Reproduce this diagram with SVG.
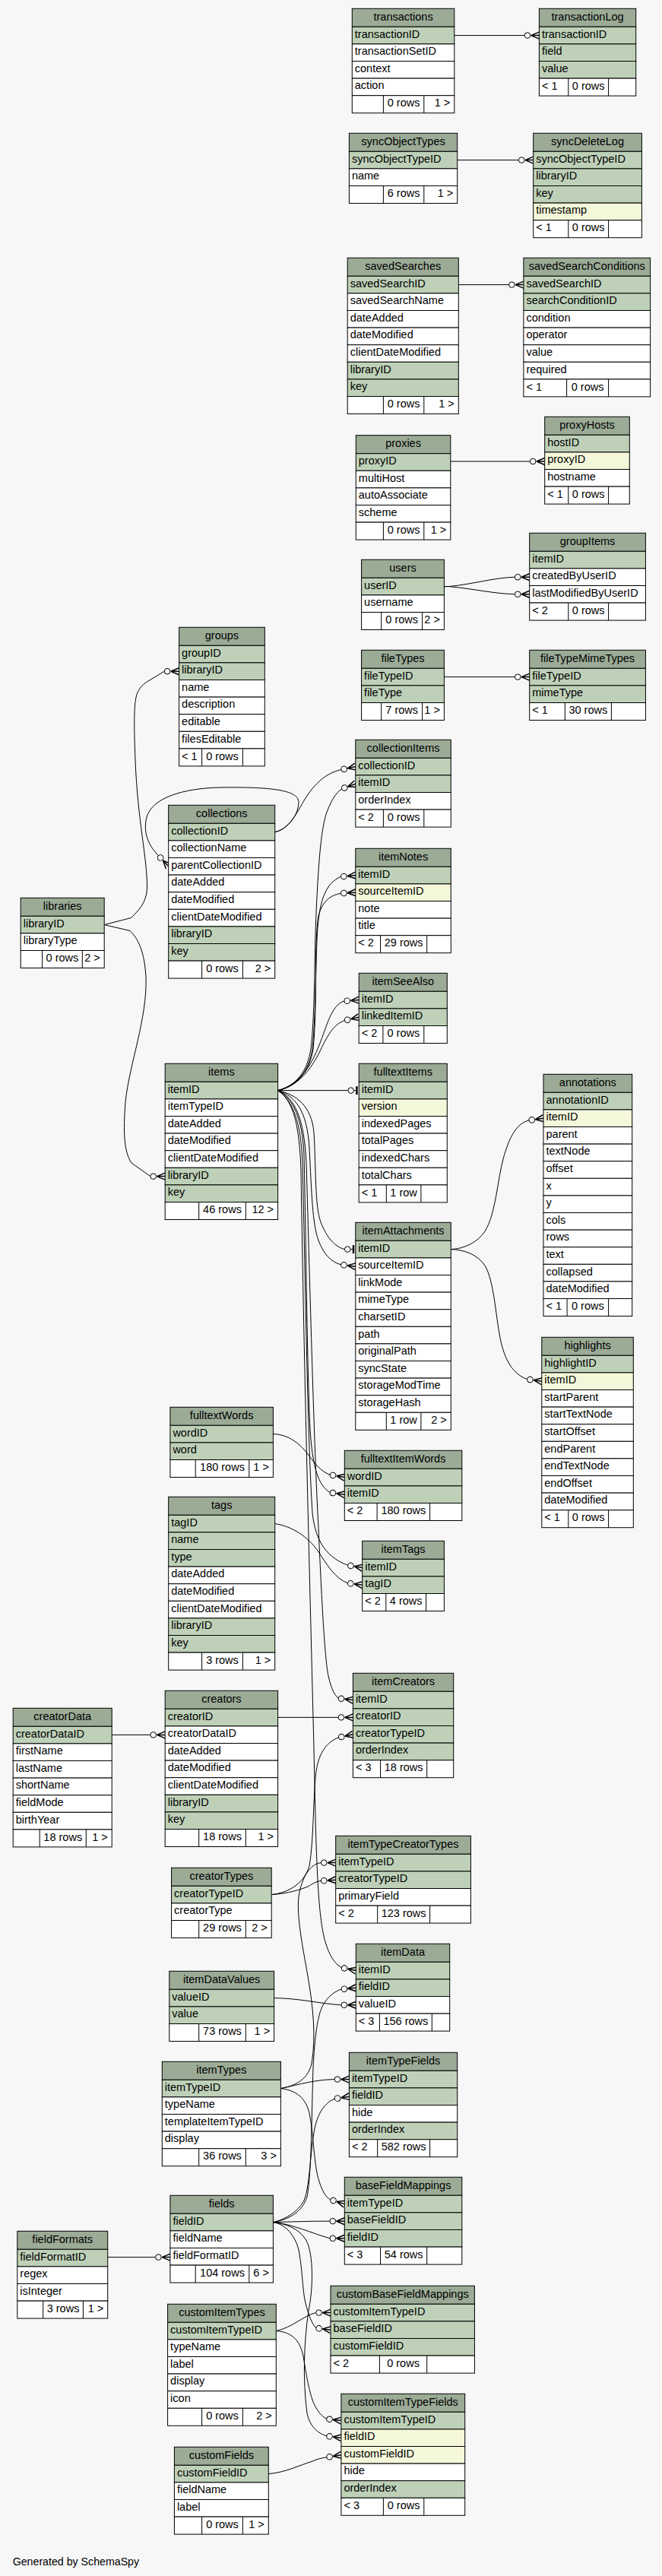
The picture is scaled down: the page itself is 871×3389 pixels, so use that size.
<svg xmlns="http://www.w3.org/2000/svg" xmlns:xlink="http://www.w3.org/1999/xlink" width="871" height="3389" viewBox="0 0 871 3389">
<style>
text{font-family:"Liberation Sans",Arial,Helvetica,sans-serif;font-size:14.5px;fill:#000}
.c{text-anchor:middle}
.r{text-anchor:end}
.h{fill:#9bab96;stroke:#000;stroke-width:1}
.p{fill:#bed1b8;stroke:#000;stroke-width:1}
.k{fill:#f4f7da;stroke:#000;stroke-width:1}
.w{fill:#fff;stroke:#000;stroke-width:1}
.d{fill:none;stroke:#000;stroke-width:1}
.e{fill:none;stroke:#000;stroke-width:1}
</style>
<defs>
<g id="cf"><circle cx="-15.5" cy="0" r="3.8" fill="none" stroke="#000" stroke-width="1"/><path d="M-10.8,0L0,-4.5M-10.8,0L0,0M-10.8,0L0,4.5" fill="none" stroke="#000" stroke-width="1.5"/></g>
<g id="to"><circle cx="-10.5" cy="0" r="3.8" fill="none" stroke="#000" stroke-width="1"/><path d="M-6.7,0H-3" stroke="#000" stroke-width="1"/><rect x="-4" y="-5.5" width="2.4" height="11" fill="#000"/></g>
</defs>
<rect width="871" height="3389" fill="#f7f7f7"/>

<g id="connectors">
<path class="e" d="M597.8,46.6H690.1"/>
<path class="e" d="M601.7,210.6H682.4"/>
<path class="e" d="M603.3,374.6H669.6"/>
<path class="e" d="M592.8,607H697.4"/>
<path class="e" d="M584.4,771.6H591C625,768 650,760 677.4,759.2"/>
<path class="e" d="M584.4,771.6H591C625,775 650,781 677.4,781.8"/>
<path class="e" d="M584.4,890.6H677.4"/>
<path class="e" d="M137.2,1216.6L172.5,1207.5C182,1198 193,1188 193.5,1168C194,1130 181,1080 178,1000C176,950 176,922 181,911C185,903 189,900 192.5,897.5L216.3,883.2"/>
<path class="e" d="M137.2,1216.6L171,1224.5C182,1235 190,1252 192,1285C194,1340 170,1400 165,1450C162,1490 163,1515 173,1530L197.9,1547.6"/>
<path class="e" d="M361.7,1094.6C376,1092 386,1078 395,1062C408,1038 424,1018 448.9,1012.6"/>
<path class="e" d="M361.7,1094.6C376,1092 392,1075 393,1056C394,1040 360,1035 290,1036C240,1037 200,1050 193,1075C188,1095 195,1112 208.5,1125.7"/>
<path class="e" d="M365.6,1434.6C390,1428 404,1410 409,1380C415,1330 413,1250 417,1180C420,1120 424,1082 431,1066C436,1053 442,1043 449.7,1037.8"/>
<path class="e" d="M365.6,1434.6C391,1428 406,1410 411,1380C416,1330 415,1260 418,1220C421,1185 428,1162 448.6,1153.3"/>
<path class="e" d="M365.6,1434.6C392,1428 407,1410 412,1380C418,1320 413,1240 419,1205C424,1186 434,1178 448.5,1175.2"/>
<path class="e" d="M365.6,1434.6C395,1428 410,1400 420,1375C430,1350 436,1322 452.9,1317"/>
<path class="e" d="M365.6,1434.6C392,1430 410,1405 420,1385C430,1364 438,1348 453.4,1342.5"/>
<path class="e" d="M365.6,1434.6H457.9"/>
<path class="e" d="M365.6,1434.6C390,1440 410,1455 413,1490C416,1540 414,1585 422,1608C430,1628 440,1640 453.5,1643.6"/>
<path class="e" d="M365.6,1434.6C388,1442 404,1460 407,1510C410,1570 411,1610 419,1632C426,1650 435,1660 448.6,1663.8"/>
<path class="e" d="M365.6,1434.6C385,1445 398,1470 400,1520C403,1650 404,1800 408,1880C411,1930 419,1955 434.2,1963.5"/>
<path class="e" d="M365.6,1434.6C385,1448 396,1475 398,1530C402,1700 405,1900 411,1990C415,2030 432,2050 457.7,2059.2"/>
<path class="e" d="M365.6,1434.6C388,1445 400,1470 403,1530C408,1700 413,1900 419,2010C423,2100 427,2180 432,2205C436,2222 440,2230 445.2,2234.2"/>
<path class="e" d="M365.6,1434.6C386,1448 394,1480 396,1540C400,1800 408,2100 413,2300C416,2450 418,2520 428,2555C434,2574 440,2583 449.4,2588.6"/>
<path class="e" d="M359.4,1886.6C380,1887 395,1900 405,1913C415,1926 422,1936 434.3,1940.2"/>
<path class="e" d="M361.7,2004.6C385,2008 405,2022 418,2040C430,2058 440,2076 457.5,2082.8"/>
<path class="e" d="M593.3,1643.6C610,1643 628,1635 638,1620C652,1598 655,1550 662,1525C670,1495 680,1478 695.9,1473.9"/>
<path class="e" d="M593.3,1643.6C610,1644 628,1650 638,1665C650,1685 652,1730 658,1760C664,1790 675,1808 693.7,1814.5"/>
<path class="e" d="M365.6,2259.4H445.1"/>
<path class="e" d="M147.2,2282.4H197.9"/>
<path class="e" d="M357.2,2492.6C380,2490 400,2478 407,2455C413,2420 412,2360 416,2330C420,2305 430,2292 445.5,2285.8"/>
<path class="e" d="M357.2,2492.6C380,2491 395,2486 405,2482C412,2478 416,2475 422.4,2474.5"/>
<path class="e" d="M369.4,2747.6C390,2744 405,2735 410,2715C416,2680 412,2640 405,2600C398,2560 390,2520 393,2495C397,2470 408,2452 422.4,2450.6"/>
<path class="e" d="M369.4,2747.6C395,2742 415,2736 440.1,2735.6"/>
<path class="e" d="M369.4,2747.6C390,2750 402,2760 407,2780C413,2810 413,2850 420,2870C424,2882 428,2890 434.8,2894"/>
<path class="e" d="M360.6,2628.6C395,2629 420,2636 449,2637.8"/>
<path class="e" d="M359.4,2923.6C380,2920 398,2910 404,2890C410,2860 410,2780 412,2720C414,2680 418,2650 425,2638C431,2627 440,2620 449,2617"/>
<path class="e" d="M359.4,2923.6C375,2920 392,2910 400,2895C408,2875 408,2830 414,2800C419,2778 428,2766 440.3,2761.2"/>
<path class="e" d="M359.4,2923.6C385,2923 410,2922 434,2922.2"/>
<path class="e" d="M359.4,2923.6C385,2926 410,2938 434,2944.8"/>
<path class="e" d="M359.4,2923.6C375,2926 388,2940 393,2960C398,2985 398,3015 402,3030C406,3045 410,3057 415.8,3062.8"/>
<path class="e" d="M359.4,2923.6C380,2926 400,2935 406,2955C412,2975 412,3010 406,3040C400,3080 398,3130 404,3175C408,3193 418,3201 429.7,3204.8"/>
<path class="e" d="M141.7,2969.6H204.6"/>
<path class="e" d="M363.3,3066.6C385,3062 400,3046 415.7,3042.6"/>
<path class="e" d="M363.3,3066.6C385,3068 395,3080 399,3100C404,3130 408,3155 416,3168C421,3176 425,3180 429.7,3182.2"/>
<path class="e" d="M353.3,3254.6C375,3253 395,3243 411,3238C418,3235 424,3233.5 429.8,3232.8"/>
<use xlink:href="#cf" transform="translate(709.4,46.6)"/>
<use xlink:href="#cf" transform="translate(701.7,210.6)"/>
<use xlink:href="#cf" transform="translate(688.9,374.6)"/>
<use xlink:href="#cf" transform="translate(716.7,607)"/>
<use xlink:href="#cf" transform="translate(696.7,759.2)"/>
<use xlink:href="#cf" transform="translate(696.7,781.8)"/>
<use xlink:href="#cf" transform="translate(696.7,890.6)"/>
<use xlink:href="#cf" transform="translate(235.6,883.2)"/>
<use xlink:href="#cf" transform="translate(217.2,1547.6)"/>
<use xlink:href="#cf" transform="translate(467.8,1008.6) rotate(-12)"/>
<use xlink:href="#cf" transform="translate(221.7,1139.8) rotate(47)"/>
<use xlink:href="#cf" transform="translate(467.8,1031.2) rotate(-20)"/>
<use xlink:href="#cf" transform="translate(467.8,1151.6) rotate(-5)"/>
<use xlink:href="#cf" transform="translate(467.8,1174.2) rotate(-3)"/>
<use xlink:href="#cf" transform="translate(472.2,1315.6) rotate(-4)"/>
<use xlink:href="#cf" transform="translate(472.2,1338.2) rotate(-13)"/>
<use xlink:href="#to" transform="translate(472.2,1434.6)"/>
<use xlink:href="#to" transform="translate(467.8,1643.6)"/>
<use xlink:href="#cf" transform="translate(467.8,1666.2) rotate(7)"/>
<use xlink:href="#cf" transform="translate(453.3,1966.2) rotate(8)"/>
<use xlink:href="#cf" transform="translate(476.7,2062.6) rotate(10)"/>
<use xlink:href="#cf" transform="translate(464.4,2236.6) rotate(7)"/>
<use xlink:href="#cf" transform="translate(468.3,2592.6) rotate(12)"/>
<use xlink:href="#cf" transform="translate(453.3,1943.6) rotate(10)"/>
<use xlink:href="#cf" transform="translate(476.7,2085.2) rotate(7)"/>
<use xlink:href="#cf" transform="translate(715,1471.2) rotate(-8)"/>
<use xlink:href="#cf" transform="translate(712.8,1817.2) rotate(8)"/>
<use xlink:href="#cf" transform="translate(464.4,2259.4)"/>
<use xlink:href="#cf" transform="translate(217.2,2282.4)"/>
<use xlink:href="#cf" transform="translate(464.4,2281.8) rotate(-12)"/>
<use xlink:href="#cf" transform="translate(441.7,2473.2) rotate(-4)"/>
<use xlink:href="#cf" transform="translate(441.7,2450.6)"/>
<use xlink:href="#cf" transform="translate(459.4,2735.6)"/>
<use xlink:href="#cf" transform="translate(453.3,2899.6) rotate(17)"/>
<use xlink:href="#cf" transform="translate(468.3,2637.8)"/>
<use xlink:href="#cf" transform="translate(468.3,2615.2) rotate(-5.5)"/>
<use xlink:href="#cf" transform="translate(459.4,2758.2) rotate(-9)"/>
<use xlink:href="#cf" transform="translate(453.3,2922.2)"/>
<use xlink:href="#cf" transform="translate(453.3,2944.8)"/>
<use xlink:href="#cf" transform="translate(435,3065.2) rotate(7)"/>
<use xlink:href="#cf" transform="translate(448.9,3207.2) rotate(7)"/>
<use xlink:href="#cf" transform="translate(223.9,2969.6)"/>
<use xlink:href="#cf" transform="translate(435,3042.6)"/>
<use xlink:href="#cf" transform="translate(448.9,3184.6) rotate(7)"/>
<use xlink:href="#cf" transform="translate(448.9,3229.8) rotate(-9)"/>
</g>

<g id="transactions" transform="translate(463.3,11.3)">
<rect class="h" width="134.5" height="24"/><text class="c" x="67.25" y="15.5">transactions</text>
<rect class="p" y="24" width="134.5" height="22.6"/><text x="3.5" y="38.3">transactionID</text>
<rect class="w" y="46.6" width="134.5" height="22.6"/><text x="3.5" y="60.9">transactionSetID</text>
<rect class="w" y="69.2" width="134.5" height="22.6"/><text x="3.5" y="83.5">context</text>
<rect class="w" y="91.8" width="134.5" height="22.6"/><text x="3.5" y="106.1">action</text>
<rect class="w" y="114.4" width="134.5" height="23"/><path class="d" d="M41.1,114.4v23M94.5,114.4v23"/>
<text class="c" x="67.8" y="129.1">0 rows</text><text class="r" x="129" y="129.1">1 &gt;</text>
</g>
<g id="transactionLog" transform="translate(709.4,11.3)">
<rect class="h" width="127.3" height="24"/><text class="c" x="63.65" y="15.5">transactionLog</text>
<rect class="p" y="24" width="127.3" height="22.6"/><text x="3.5" y="38.3">transactionID</text>
<rect class="p" y="46.6" width="127.3" height="22.6"/><text x="3.5" y="60.9">field</text>
<rect class="p" y="69.2" width="127.3" height="22.6"/><text x="3.5" y="83.5">value</text>
<rect class="w" y="91.8" width="127.3" height="23"/><path class="d" d="M38.4,91.8v23M91.2,91.8v23"/>
<text x="3.5" y="106.5">&lt; 1</text><text class="c" x="64.8" y="106.5">0 rows</text>
</g>
<g id="syncObjectTypes" transform="translate(459.4,175.3)">
<rect class="h" width="142.3" height="24"/><text class="c" x="71.15" y="15.5">syncObjectTypes</text>
<rect class="p" y="24" width="142.3" height="22.6"/><text x="3.5" y="38.3">syncObjectTypeID</text>
<rect class="w" y="46.6" width="142.3" height="22.6"/><text x="3.5" y="60.9">name</text>
<rect class="w" y="69.2" width="142.3" height="23"/><path class="d" d="M45,69.2v23M98.4,69.2v23"/>
<text class="c" x="71.7" y="83.9">6 rows</text><text class="r" x="136.8" y="83.9">1 &gt;</text>
</g>
<g id="syncDeleteLog" transform="translate(701.7,175.3)">
<rect class="h" width="142.7" height="24"/><text class="c" x="71.35" y="15.5">syncDeleteLog</text>
<rect class="p" y="24" width="142.7" height="22.6"/><text x="3.5" y="38.3">syncObjectTypeID</text>
<rect class="p" y="46.6" width="142.7" height="22.6"/><text x="3.5" y="60.9">libraryID</text>
<rect class="p" y="69.2" width="142.7" height="22.6"/><text x="3.5" y="83.5">key</text>
<rect class="k" y="91.8" width="142.7" height="22.6"/><text x="3.5" y="106.1">timestamp</text>
<rect class="w" y="114.4" width="142.7" height="23"/><path class="d" d="M46.1,114.4v23M98.9,114.4v23"/>
<text x="3.5" y="129.1">&lt; 1</text><text class="c" x="72.5" y="129.1">0 rows</text>
</g>
<g id="savedSearches" transform="translate(457.2,339.3)">
<rect class="h" width="146.1" height="24"/><text class="c" x="73.05" y="15.5">savedSearches</text>
<rect class="p" y="24" width="146.1" height="22.6"/><text x="3.5" y="38.3">savedSearchID</text>
<rect class="w" y="46.6" width="146.1" height="22.6"/><text x="3.5" y="60.9">savedSearchName</text>
<rect class="w" y="69.2" width="146.1" height="22.6"/><text x="3.5" y="83.5">dateAdded</text>
<rect class="w" y="91.8" width="146.1" height="22.6"/><text x="3.5" y="106.1">dateModified</text>
<rect class="w" y="114.4" width="146.1" height="22.6"/><text x="3.5" y="128.7">clientDateModified</text>
<rect class="p" y="137" width="146.1" height="22.6"/><text x="3.5" y="151.3">libraryID</text>
<rect class="p" y="159.6" width="146.1" height="22.6"/><text x="3.5" y="173.9">key</text>
<rect class="w" y="182.2" width="146.1" height="23"/><path class="d" d="M47.2,182.2v23M100.6,182.2v23"/>
<text class="c" x="73.9" y="196.9">0 rows</text><text class="r" x="140.6" y="196.9">1 &gt;</text>
</g>
<g id="savedSearchConditions" transform="translate(688.9,339.3)">
<rect class="h" width="166.7" height="24"/><text class="c" x="83.35" y="15.5">savedSearchConditions</text>
<rect class="p" y="24" width="166.7" height="22.6"/><text x="3.5" y="38.3">savedSearchID</text>
<rect class="p" y="46.6" width="166.7" height="22.6"/><text x="3.5" y="60.9">searchConditionID</text>
<rect class="w" y="69.2" width="166.7" height="22.6"/><text x="3.5" y="83.5">condition</text>
<rect class="w" y="91.8" width="166.7" height="22.6"/><text x="3.5" y="106.1">operator</text>
<rect class="w" y="114.4" width="166.7" height="22.6"/><text x="3.5" y="128.7">value</text>
<rect class="w" y="137" width="166.7" height="22.6"/><text x="3.5" y="151.3">required</text>
<rect class="w" y="159.6" width="166.7" height="23"/><path class="d" d="M56.7,159.6v23M111.7,159.6v23"/>
<text x="3.5" y="174.3">&lt; 1</text><text class="c" x="84.2" y="174.3">0 rows</text>
</g>
<g id="proxyHosts" transform="translate(716.7,548.3)">
<rect class="h" width="111.6" height="24"/><text class="c" x="55.8" y="15.5">proxyHosts</text>
<rect class="p" y="24" width="111.6" height="22.6"/><text x="3.5" y="38.3">hostID</text>
<rect class="k" y="46.6" width="111.6" height="22.6"/><text x="3.5" y="60.9">proxyID</text>
<rect class="w" y="69.2" width="111.6" height="22.6"/><text x="3.5" y="83.5">hostname</text>
<rect class="w" y="91.8" width="111.6" height="23"/><path class="d" d="M31.1,91.8v23M83.9,91.8v23"/>
<text x="3.5" y="106.5">&lt; 1</text><text class="c" x="57.5" y="106.5">0 rows</text>
</g>
<g id="proxies" transform="translate(468.3,572.7)">
<rect class="h" width="124.5" height="24"/><text class="c" x="62.25" y="15.5">proxies</text>
<rect class="p" y="24" width="124.5" height="22.6"/><text x="3.5" y="38.3">proxyID</text>
<rect class="w" y="46.6" width="124.5" height="22.6"/><text x="3.5" y="60.9">multiHost</text>
<rect class="w" y="69.2" width="124.5" height="22.6"/><text x="3.5" y="83.5">autoAssociate</text>
<rect class="w" y="91.8" width="124.5" height="22.6"/><text x="3.5" y="106.1">scheme</text>
<rect class="w" y="114.4" width="124.5" height="23"/><path class="d" d="M36.1,114.4v23M89.5,114.4v23"/>
<text class="c" x="62.8" y="129.1">0 rows</text><text class="r" x="119" y="129.1">1 &gt;</text>
</g>
<g id="groupItems" transform="translate(696.7,701.3)">
<rect class="h" width="152.7" height="24"/><text class="c" x="76.35" y="15.5">groupItems</text>
<rect class="p" y="24" width="152.7" height="22.6"/><text x="3.5" y="38.3">itemID</text>
<rect class="w" y="46.6" width="152.7" height="22.6"/><text x="3.5" y="60.9">createdByUserID</text>
<rect class="w" y="69.2" width="152.7" height="22.6"/><text x="3.5" y="83.5">lastModifiedByUserID</text>
<rect class="w" y="91.8" width="152.7" height="23"/><path class="d" d="M51.1,91.8v23M103.9,91.8v23"/>
<text x="3.5" y="106.5">&lt; 2</text><text class="c" x="77.5" y="106.5">0 rows</text>
</g>
<g id="users" transform="translate(475.6,736.3)">
<rect class="h" width="108.8" height="24"/><text class="c" x="54.4" y="15.5">users</text>
<rect class="p" y="24" width="108.8" height="22.6"/><text x="3.5" y="38.3">userID</text>
<rect class="w" y="46.6" width="108.8" height="22.6"/><text x="3.5" y="60.9">username</text>
<rect class="w" y="69.2" width="108.8" height="23"/><path class="d" d="M26.1,69.2v23M80,69.2v23"/>
<text class="c" x="53.05" y="83.9">0 rows</text><text class="r" x="103.3" y="83.9">2 &gt;</text>
</g>
<g id="groups" transform="translate(235.6,825.3)">
<rect class="h" width="112.7" height="24"/><text class="c" x="56.35" y="15.5">groups</text>
<rect class="p" y="24" width="112.7" height="22.6"/><text x="3.5" y="38.3">groupID</text>
<rect class="p" y="46.6" width="112.7" height="22.6"/><text x="3.5" y="60.9">libraryID</text>
<rect class="w" y="69.2" width="112.7" height="22.6"/><text x="3.5" y="83.5">name</text>
<rect class="w" y="91.8" width="112.7" height="22.6"/><text x="3.5" y="106.1">description</text>
<rect class="w" y="114.4" width="112.7" height="22.6"/><text x="3.5" y="128.7">editable</text>
<rect class="w" y="137" width="112.7" height="22.6"/><text x="3.5" y="151.3">filesEditable</text>
<rect class="w" y="159.6" width="112.7" height="23"/><path class="d" d="M30,159.6v23M83.8,159.6v23"/>
<text x="3.5" y="174.3">&lt; 1</text><text class="c" x="56.9" y="174.3">0 rows</text>
</g>
<g id="fileTypes" transform="translate(475.6,855.3)">
<rect class="h" width="108.8" height="24"/><text class="c" x="54.4" y="15.5">fileTypes</text>
<rect class="p" y="24" width="108.8" height="22.6"/><text x="3.5" y="38.3">fileTypeID</text>
<rect class="p" y="46.6" width="108.8" height="22.6"/><text x="3.5" y="60.9">fileType</text>
<rect class="w" y="69.2" width="108.8" height="23"/><path class="d" d="M26.1,69.2v23M80,69.2v23"/>
<text class="c" x="53.05" y="83.9">7 rows</text><text class="r" x="103.3" y="83.9">1 &gt;</text>
</g>
<g id="fileTypeMimeTypes" transform="translate(696.7,855.3)">
<rect class="h" width="152.7" height="24"/><text class="c" x="76.35" y="15.5">fileTypeMimeTypes</text>
<rect class="p" y="24" width="152.7" height="22.6"/><text x="3.5" y="38.3">fileTypeID</text>
<rect class="p" y="46.6" width="152.7" height="22.6"/><text x="3.5" y="60.9">mimeType</text>
<rect class="w" y="69.2" width="152.7" height="23"/><path class="d" d="M46.6,69.2v23M107.7,69.2v23"/>
<text x="3.5" y="83.9">&lt; 1</text><text class="c" x="77.15" y="83.9">30 rows</text>
</g>
<g id="collectionItems" transform="translate(467.8,973.3)">
<rect class="h" width="125.5" height="24"/><text class="c" x="62.75" y="15.5">collectionItems</text>
<rect class="p" y="24" width="125.5" height="22.6"/><text x="3.5" y="38.3">collectionID</text>
<rect class="p" y="46.6" width="125.5" height="22.6"/><text x="3.5" y="60.9">itemID</text>
<rect class="w" y="69.2" width="125.5" height="22.6"/><text x="3.5" y="83.5">orderIndex</text>
<rect class="w" y="91.8" width="125.5" height="23"/><path class="d" d="M36.6,91.8v23M90,91.8v23"/>
<text x="3.5" y="106.5">&lt; 2</text><text class="c" x="63.3" y="106.5">0 rows</text>
</g>
<g id="collections" transform="translate(221.7,1059.3)">
<rect class="h" width="140" height="24"/><text class="c" x="70" y="15.5">collections</text>
<rect class="p" y="24" width="140" height="22.6"/><text x="3.5" y="38.3">collectionID</text>
<rect class="w" y="46.6" width="140" height="22.6"/><text x="3.5" y="60.9">collectionName</text>
<rect class="w" y="69.2" width="140" height="22.6"/><text x="3.5" y="83.5">parentCollectionID</text>
<rect class="w" y="91.8" width="140" height="22.6"/><text x="3.5" y="106.1">dateAdded</text>
<rect class="w" y="114.4" width="140" height="22.6"/><text x="3.5" y="128.7">dateModified</text>
<rect class="w" y="137" width="140" height="22.6"/><text x="3.5" y="151.3">clientDateModified</text>
<rect class="p" y="159.6" width="140" height="22.6"/><text x="3.5" y="173.9">libraryID</text>
<rect class="p" y="182.2" width="140" height="22.6"/><text x="3.5" y="196.5">key</text>
<rect class="w" y="204.8" width="140" height="23"/><path class="d" d="M43.9,204.8v23M97.7,204.8v23"/>
<text class="c" x="70.8" y="219.5">0 rows</text><text class="r" x="134.5" y="219.5">2 &gt;</text>
</g>
<g id="itemNotes" transform="translate(467.8,1116.3)">
<rect class="h" width="125.5" height="24"/><text class="c" x="62.75" y="15.5">itemNotes</text>
<rect class="p" y="24" width="125.5" height="22.6"/><text x="3.5" y="38.3">itemID</text>
<rect class="k" y="46.6" width="125.5" height="22.6"/><text x="3.5" y="60.9">sourceItemID</text>
<rect class="w" y="69.2" width="125.5" height="22.6"/><text x="3.5" y="83.5">note</text>
<rect class="w" y="91.8" width="125.5" height="22.6"/><text x="3.5" y="106.1">title</text>
<rect class="w" y="114.4" width="125.5" height="23"/><path class="d" d="M32.8,114.4v23M93.9,114.4v23"/>
<text x="3.5" y="129.1">&lt; 2</text><text class="c" x="63.35" y="129.1">29 rows</text>
</g>
<g id="libraries" transform="translate(27.2,1181.3)">
<rect class="h" width="110" height="24"/><text class="c" x="55" y="15.5">libraries</text>
<rect class="p" y="24" width="110" height="22.6"/><text x="3.5" y="38.3">libraryID</text>
<rect class="w" y="46.6" width="110" height="22.6"/><text x="3.5" y="60.9">libraryType</text>
<rect class="w" y="69.2" width="110" height="23"/><path class="d" d="M28.4,69.2v23M81.1,69.2v23"/>
<text class="c" x="54.75" y="83.9">0 rows</text><text class="r" x="104.5" y="83.9">2 &gt;</text>
</g>
<g id="itemSeeAlso" transform="translate(472.2,1280.3)">
<rect class="h" width="116.1" height="24"/><text class="c" x="58.05" y="15.5">itemSeeAlso</text>
<rect class="p" y="24" width="116.1" height="22.6"/><text x="3.5" y="38.3">itemID</text>
<rect class="p" y="46.6" width="116.1" height="22.6"/><text x="3.5" y="60.9">linkedItemID</text>
<rect class="w" y="69.2" width="116.1" height="23"/><path class="d" d="M31.7,69.2v23M85.6,69.2v23"/>
<text x="3.5" y="83.9">&lt; 2</text><text class="c" x="58.65" y="83.9">0 rows</text>
</g>
<g id="items" transform="translate(217.2,1399.3)">
<rect class="h" width="148.4" height="24"/><text class="c" x="74.2" y="15.5">items</text>
<rect class="p" y="24" width="148.4" height="22.6"/><text x="3.5" y="38.3">itemID</text>
<rect class="w" y="46.6" width="148.4" height="22.6"/><text x="3.5" y="60.9">itemTypeID</text>
<rect class="w" y="69.2" width="148.4" height="22.6"/><text x="3.5" y="83.5">dateAdded</text>
<rect class="w" y="91.8" width="148.4" height="22.6"/><text x="3.5" y="106.1">dateModified</text>
<rect class="w" y="114.4" width="148.4" height="22.6"/><text x="3.5" y="128.7">clientDateModified</text>
<rect class="p" y="137" width="148.4" height="22.6"/><text x="3.5" y="151.3">libraryID</text>
<rect class="p" y="159.6" width="148.4" height="22.6"/><text x="3.5" y="173.9">key</text>
<rect class="w" y="182.2" width="148.4" height="23"/><path class="d" d="M44.5,182.2v23M106.1,182.2v23"/>
<text class="c" x="75.3" y="196.9">46 rows</text><text class="r" x="142.9" y="196.9">12 &gt;</text>
</g>
<g id="fulltextItems" transform="translate(472.2,1399.3)">
<rect class="h" width="116.1" height="24"/><text class="c" x="58.05" y="15.5">fulltextItems</text>
<rect class="p" y="24" width="116.1" height="22.6"/><text x="3.5" y="38.3">itemID</text>
<rect class="k" y="46.6" width="116.1" height="22.6"/><text x="3.5" y="60.9">version</text>
<rect class="w" y="69.2" width="116.1" height="22.6"/><text x="3.5" y="83.5">indexedPages</text>
<rect class="w" y="91.8" width="116.1" height="22.6"/><text x="3.5" y="106.1">totalPages</text>
<rect class="w" y="114.4" width="116.1" height="22.6"/><text x="3.5" y="128.7">indexedChars</text>
<rect class="w" y="137" width="116.1" height="22.6"/><text x="3.5" y="151.3">totalChars</text>
<rect class="w" y="159.6" width="116.1" height="23"/><path class="d" d="M36.1,159.6v23M81.7,159.6v23"/>
<text x="3.5" y="174.3">&lt; 1</text><text class="c" x="58.9" y="174.3">1 row</text>
</g>
<g id="annotations" transform="translate(715,1413.3)">
<rect class="h" width="116.7" height="24"/><text class="c" x="58.35" y="15.5">annotations</text>
<rect class="p" y="24" width="116.7" height="22.6"/><text x="3.5" y="38.3">annotationID</text>
<rect class="k" y="46.6" width="116.7" height="22.6"/><text x="3.5" y="60.9">itemID</text>
<rect class="w" y="69.2" width="116.7" height="22.6"/><text x="3.5" y="83.5">parent</text>
<rect class="w" y="91.8" width="116.7" height="22.6"/><text x="3.5" y="106.1">textNode</text>
<rect class="w" y="114.4" width="116.7" height="22.6"/><text x="3.5" y="128.7">offset</text>
<rect class="w" y="137" width="116.7" height="22.6"/><text x="3.5" y="151.3">x</text>
<rect class="w" y="159.6" width="116.7" height="22.6"/><text x="3.5" y="173.9">y</text>
<rect class="w" y="182.2" width="116.7" height="22.6"/><text x="3.5" y="196.5">cols</text>
<rect class="w" y="204.8" width="116.7" height="22.6"/><text x="3.5" y="219.1">rows</text>
<rect class="w" y="227.4" width="116.7" height="22.6"/><text x="3.5" y="241.7">text</text>
<rect class="w" y="250" width="116.7" height="22.6"/><text x="3.5" y="264.3">collapsed</text>
<rect class="w" y="272.6" width="116.7" height="22.6"/><text x="3.5" y="286.9">dateModified</text>
<rect class="w" y="295.2" width="116.7" height="23"/><path class="d" d="M31.1,295.2v23M85.6,295.2v23"/>
<text x="3.5" y="309.9">&lt; 1</text><text class="c" x="58.35" y="309.9">0 rows</text>
</g>
<g id="itemAttachments" transform="translate(467.8,1608.3)">
<rect class="h" width="125.5" height="24"/><text class="c" x="62.75" y="15.5">itemAttachments</text>
<rect class="p" y="24" width="125.5" height="22.6"/><text x="3.5" y="38.3">itemID</text>
<rect class="w" y="46.6" width="125.5" height="22.6"/><text x="3.5" y="60.9">sourceItemID</text>
<rect class="w" y="69.2" width="125.5" height="22.6"/><text x="3.5" y="83.5">linkMode</text>
<rect class="w" y="91.8" width="125.5" height="22.6"/><text x="3.5" y="106.1">mimeType</text>
<rect class="w" y="114.4" width="125.5" height="22.6"/><text x="3.5" y="128.7">charsetID</text>
<rect class="w" y="137" width="125.5" height="22.6"/><text x="3.5" y="151.3">path</text>
<rect class="w" y="159.6" width="125.5" height="22.6"/><text x="3.5" y="173.9">originalPath</text>
<rect class="w" y="182.2" width="125.5" height="22.6"/><text x="3.5" y="196.5">syncState</text>
<rect class="w" y="204.8" width="125.5" height="22.6"/><text x="3.5" y="219.1">storageModTime</text>
<rect class="w" y="227.4" width="125.5" height="22.6"/><text x="3.5" y="241.7">storageHash</text>
<rect class="w" y="250" width="125.5" height="23"/><path class="d" d="M40.5,250v23M86.1,250v23"/>
<text class="c" x="63.3" y="264.7">1 row</text><text class="r" x="120" y="264.7">2 &gt;</text>
</g>
<g id="highlights" transform="translate(712.8,1759.3)">
<rect class="h" width="120.5" height="24"/><text class="c" x="60.25" y="15.5">highlights</text>
<rect class="p" y="24" width="120.5" height="22.6"/><text x="3.5" y="38.3">highlightID</text>
<rect class="k" y="46.6" width="120.5" height="22.6"/><text x="3.5" y="60.9">itemID</text>
<rect class="w" y="69.2" width="120.5" height="22.6"/><text x="3.5" y="83.5">startParent</text>
<rect class="w" y="91.8" width="120.5" height="22.6"/><text x="3.5" y="106.1">startTextNode</text>
<rect class="w" y="114.4" width="120.5" height="22.6"/><text x="3.5" y="128.7">startOffset</text>
<rect class="w" y="137" width="120.5" height="22.6"/><text x="3.5" y="151.3">endParent</text>
<rect class="w" y="159.6" width="120.5" height="22.6"/><text x="3.5" y="173.9">endTextNode</text>
<rect class="w" y="182.2" width="120.5" height="22.6"/><text x="3.5" y="196.5">endOffset</text>
<rect class="w" y="204.8" width="120.5" height="22.6"/><text x="3.5" y="219.1">dateModified</text>
<rect class="w" y="227.4" width="120.5" height="23"/><path class="d" d="M35,227.4v23M87.8,227.4v23"/>
<text x="3.5" y="242.1">&lt; 1</text><text class="c" x="61.4" y="242.1">0 rows</text>
</g>
<g id="fulltextWords" transform="translate(223.9,1851.3)">
<rect class="h" width="135.5" height="24"/><text class="c" x="67.75" y="15.5">fulltextWords</text>
<rect class="p" y="24" width="135.5" height="22.6"/><text x="3.5" y="38.3">wordID</text>
<rect class="p" y="46.6" width="135.5" height="22.6"/><text x="3.5" y="60.9">word</text>
<rect class="w" y="69.2" width="135.5" height="23"/><path class="d" d="M33.3,69.2v23M103.9,69.2v23"/>
<text class="c" x="68.6" y="83.9">180 rows</text><text class="r" x="130" y="83.9">1 &gt;</text>
</g>
<g id="fulltextItemWords" transform="translate(453.3,1908.3)">
<rect class="h" width="154.5" height="24"/><text class="c" x="77.25" y="15.5">fulltextItemWords</text>
<rect class="p" y="24" width="154.5" height="22.6"/><text x="3.5" y="38.3">wordID</text>
<rect class="p" y="46.6" width="154.5" height="22.6"/><text x="3.5" y="60.9">itemID</text>
<rect class="w" y="69.2" width="154.5" height="23"/><path class="d" d="M42.8,69.2v23M112.3,69.2v23"/>
<text x="3.5" y="83.9">&lt; 2</text><text class="c" x="77.55" y="83.9">180 rows</text>
</g>
<g id="tags" transform="translate(221.7,1969.3)">
<rect class="h" width="140" height="24"/><text class="c" x="70" y="15.5">tags</text>
<rect class="p" y="24" width="140" height="22.6"/><text x="3.5" y="38.3">tagID</text>
<rect class="p" y="46.6" width="140" height="22.6"/><text x="3.5" y="60.9">name</text>
<rect class="p" y="69.2" width="140" height="22.6"/><text x="3.5" y="83.5">type</text>
<rect class="w" y="91.8" width="140" height="22.6"/><text x="3.5" y="106.1">dateAdded</text>
<rect class="w" y="114.4" width="140" height="22.6"/><text x="3.5" y="128.7">dateModified</text>
<rect class="w" y="137" width="140" height="22.6"/><text x="3.5" y="151.3">clientDateModified</text>
<rect class="p" y="159.6" width="140" height="22.6"/><text x="3.5" y="173.9">libraryID</text>
<rect class="p" y="182.2" width="140" height="22.6"/><text x="3.5" y="196.5">key</text>
<rect class="w" y="204.8" width="140" height="23"/><path class="d" d="M43.9,204.8v23M97.7,204.8v23"/>
<text class="c" x="70.8" y="219.5">3 rows</text><text class="r" x="134.5" y="219.5">1 &gt;</text>
</g>
<g id="itemTags" transform="translate(476.7,2027.3)">
<rect class="h" width="107.7" height="24"/><text class="c" x="53.85" y="15.5">itemTags</text>
<rect class="p" y="24" width="107.7" height="22.6"/><text x="3.5" y="38.3">itemID</text>
<rect class="p" y="46.6" width="107.7" height="22.6"/><text x="3.5" y="60.9">tagID</text>
<rect class="w" y="69.2" width="107.7" height="23"/><path class="d" d="M31.1,69.2v23M83.9,69.2v23"/>
<text x="3.5" y="83.9">&lt; 2</text><text class="c" x="57.5" y="83.9">4 rows</text>
</g>
<g id="itemCreators" transform="translate(464.4,2201.3)">
<rect class="h" width="132.3" height="24"/><text class="c" x="66.15" y="15.5">itemCreators</text>
<rect class="p" y="24" width="132.3" height="22.6"/><text x="3.5" y="38.3">itemID</text>
<rect class="p" y="46.6" width="132.3" height="22.6"/><text x="3.5" y="60.9">creatorID</text>
<rect class="p" y="69.2" width="132.3" height="22.6"/><text x="3.5" y="83.5">creatorTypeID</text>
<rect class="p" y="91.8" width="132.3" height="22.6"/><text x="3.5" y="106.1">orderIndex</text>
<rect class="w" y="114.4" width="132.3" height="23"/><path class="d" d="M36.2,114.4v23M97.3,114.4v23"/>
<text x="3.5" y="129.1">&lt; 3</text><text class="c" x="66.75" y="129.1">18 rows</text>
</g>
<g id="creators" transform="translate(217.2,2224.3)">
<rect class="h" width="148.4" height="24"/><text class="c" x="74.2" y="15.5">creators</text>
<rect class="p" y="24" width="148.4" height="22.6"/><text x="3.5" y="38.3">creatorID</text>
<rect class="w" y="46.6" width="148.4" height="22.6"/><text x="3.5" y="60.9">creatorDataID</text>
<rect class="w" y="69.2" width="148.4" height="22.6"/><text x="3.5" y="83.5">dateAdded</text>
<rect class="w" y="91.8" width="148.4" height="22.6"/><text x="3.5" y="106.1">dateModified</text>
<rect class="w" y="114.4" width="148.4" height="22.6"/><text x="3.5" y="128.7">clientDateModified</text>
<rect class="p" y="137" width="148.4" height="22.6"/><text x="3.5" y="151.3">libraryID</text>
<rect class="p" y="159.6" width="148.4" height="22.6"/><text x="3.5" y="173.9">key</text>
<rect class="w" y="182.2" width="148.4" height="23"/><path class="d" d="M44.5,182.2v23M106.1,182.2v23"/>
<text class="c" x="75.3" y="196.9">18 rows</text><text class="r" x="142.9" y="196.9">1 &gt;</text>
</g>
<g id="creatorData" transform="translate(17.2,2247.3)">
<rect class="h" width="130" height="24"/><text class="c" x="65" y="15.5">creatorData</text>
<rect class="p" y="24" width="130" height="22.6"/><text x="3.5" y="38.3">creatorDataID</text>
<rect class="w" y="46.6" width="130" height="22.6"/><text x="3.5" y="60.9">firstName</text>
<rect class="w" y="69.2" width="130" height="22.6"/><text x="3.5" y="83.5">lastName</text>
<rect class="w" y="91.8" width="130" height="22.6"/><text x="3.5" y="106.1">shortName</text>
<rect class="w" y="114.4" width="130" height="22.6"/><text x="3.5" y="128.7">fieldMode</text>
<rect class="w" y="137" width="130" height="22.6"/><text x="3.5" y="151.3">birthYear</text>
<rect class="w" y="159.6" width="130" height="23"/><path class="d" d="M35,159.6v23M96.1,159.6v23"/>
<text class="c" x="65.55" y="174.3">18 rows</text><text class="r" x="124.5" y="174.3">1 &gt;</text>
</g>
<g id="itemTypeCreatorTypes" transform="translate(441.7,2415.3)">
<rect class="h" width="177.7" height="24"/><text class="c" x="88.85" y="15.5">itemTypeCreatorTypes</text>
<rect class="p" y="24" width="177.7" height="22.6"/><text x="3.5" y="38.3">itemTypeID</text>
<rect class="p" y="46.6" width="177.7" height="22.6"/><text x="3.5" y="60.9">creatorTypeID</text>
<rect class="w" y="69.2" width="177.7" height="22.6"/><text x="3.5" y="83.5">primaryField</text>
<rect class="w" y="91.8" width="177.7" height="23"/><path class="d" d="M55,91.8v23M123.9,91.8v23"/>
<text x="3.5" y="106.5">&lt; 2</text><text class="c" x="89.45" y="106.5">123 rows</text>
</g>
<g id="creatorTypes" transform="translate(225.6,2457.3)">
<rect class="h" width="131.6" height="24"/><text class="c" x="65.8" y="15.5">creatorTypes</text>
<rect class="p" y="24" width="131.6" height="22.6"/><text x="3.5" y="38.3">creatorTypeID</text>
<rect class="w" y="46.6" width="131.6" height="22.6"/><text x="3.5" y="60.9">creatorType</text>
<rect class="w" y="69.2" width="131.6" height="23"/><path class="d" d="M36.1,69.2v23M97.7,69.2v23"/>
<text class="c" x="66.9" y="83.9">29 rows</text><text class="r" x="126.1" y="83.9">2 &gt;</text>
</g>
<g id="itemData" transform="translate(468.3,2557.3)">
<rect class="h" width="123.4" height="24"/><text class="c" x="61.7" y="15.5">itemData</text>
<rect class="p" y="24" width="123.4" height="22.6"/><text x="3.5" y="38.3">itemID</text>
<rect class="p" y="46.6" width="123.4" height="22.6"/><text x="3.5" y="60.9">fieldID</text>
<rect class="w" y="69.2" width="123.4" height="22.6"/><text x="3.5" y="83.5">valueID</text>
<rect class="w" y="91.8" width="123.4" height="23"/><path class="d" d="M31.1,91.8v23M100,91.8v23"/>
<text x="3.5" y="106.5">&lt; 3</text><text class="c" x="65.55" y="106.5">156 rows</text>
</g>
<g id="itemDataValues" transform="translate(222.8,2593.3)">
<rect class="h" width="137.8" height="24"/><text class="c" x="68.9" y="15.5">itemDataValues</text>
<rect class="p" y="24" width="137.8" height="22.6"/><text x="3.5" y="38.3">valueID</text>
<rect class="p" y="46.6" width="137.8" height="22.6"/><text x="3.5" y="60.9">value</text>
<rect class="w" y="69.2" width="137.8" height="23"/><path class="d" d="M38.9,69.2v23M100.5,69.2v23"/>
<text class="c" x="69.7" y="83.9">73 rows</text><text class="r" x="132.3" y="83.9">1 &gt;</text>
</g>
<g id="itemTypeFields" transform="translate(459.4,2700.3)">
<rect class="h" width="142.3" height="24"/><text class="c" x="71.15" y="15.5">itemTypeFields</text>
<rect class="p" y="24" width="142.3" height="22.6"/><text x="3.5" y="38.3">itemTypeID</text>
<rect class="p" y="46.6" width="142.3" height="22.6"/><text x="3.5" y="60.9">fieldID</text>
<rect class="w" y="69.2" width="142.3" height="22.6"/><text x="3.5" y="83.5">hide</text>
<rect class="p" y="91.8" width="142.3" height="22.6"/><text x="3.5" y="106.1">orderIndex</text>
<rect class="w" y="114.4" width="142.3" height="23"/><path class="d" d="M37.3,114.4v23M106.2,114.4v23"/>
<text x="3.5" y="129.1">&lt; 2</text><text class="c" x="71.75" y="129.1">582 rows</text>
</g>
<g id="itemTypes" transform="translate(213.3,2712.3)">
<rect class="h" width="156.1" height="24"/><text class="c" x="78.05" y="15.5">itemTypes</text>
<rect class="p" y="24" width="156.1" height="22.6"/><text x="3.5" y="38.3">itemTypeID</text>
<rect class="w" y="46.6" width="156.1" height="22.6"/><text x="3.5" y="60.9">typeName</text>
<rect class="w" y="69.2" width="156.1" height="22.6"/><text x="3.5" y="83.5">templateItemTypeID</text>
<rect class="w" y="91.8" width="156.1" height="22.6"/><text x="3.5" y="106.1">display</text>
<rect class="w" y="114.4" width="156.1" height="23"/><path class="d" d="M48.4,114.4v23M110,114.4v23"/>
<text class="c" x="79.2" y="129.1">36 rows</text><text class="r" x="150.6" y="129.1">3 &gt;</text>
</g>
<g id="baseFieldMappings" transform="translate(453.3,2864.3)">
<rect class="h" width="154.5" height="24"/><text class="c" x="77.25" y="15.5">baseFieldMappings</text>
<rect class="p" y="24" width="154.5" height="22.6"/><text x="3.5" y="38.3">itemTypeID</text>
<rect class="p" y="46.6" width="154.5" height="22.6"/><text x="3.5" y="60.9">baseFieldID</text>
<rect class="p" y="69.2" width="154.5" height="22.6"/><text x="3.5" y="83.5">fieldID</text>
<rect class="w" y="91.8" width="154.5" height="23"/><path class="d" d="M47.3,91.8v23M108.4,91.8v23"/>
<text x="3.5" y="106.5">&lt; 3</text><text class="c" x="77.85" y="106.5">54 rows</text>
</g>
<g id="fields" transform="translate(223.9,2888.3)">
<rect class="h" width="135.5" height="24"/><text class="c" x="67.75" y="15.5">fields</text>
<rect class="p" y="24" width="135.5" height="22.6"/><text x="3.5" y="38.3">fieldID</text>
<rect class="w" y="46.6" width="135.5" height="22.6"/><text x="3.5" y="60.9">fieldName</text>
<rect class="w" y="69.2" width="135.5" height="22.6"/><text x="3.5" y="83.5">fieldFormatID</text>
<rect class="w" y="91.8" width="135.5" height="23"/><path class="d" d="M33.3,91.8v23M103.9,91.8v23"/>
<text class="c" x="68.6" y="106.5">104 rows</text><text class="r" x="130" y="106.5">6 &gt;</text>
</g>
<g id="fieldFormats" transform="translate(22.8,2935.3)">
<rect class="h" width="118.9" height="24"/><text class="c" x="59.45" y="15.5">fieldFormats</text>
<rect class="p" y="24" width="118.9" height="22.6"/><text x="3.5" y="38.3">fieldFormatID</text>
<rect class="w" y="46.6" width="118.9" height="22.6"/><text x="3.5" y="60.9">regex</text>
<rect class="w" y="69.2" width="118.9" height="22.6"/><text x="3.5" y="83.5">isInteger</text>
<rect class="w" y="91.8" width="118.9" height="23"/><path class="d" d="M33.9,91.8v23M86.6,91.8v23"/>
<text class="c" x="60.25" y="106.5">3 rows</text><text class="r" x="113.4" y="106.5">1 &gt;</text>
</g>
<g id="customBaseFieldMappings" transform="translate(435,3007.3)">
<rect class="h" width="189.4" height="24"/><text class="c" x="94.7" y="15.5">customBaseFieldMappings</text>
<rect class="p" y="24" width="189.4" height="22.6"/><text x="3.5" y="38.3">customItemTypeID</text>
<rect class="p" y="46.6" width="189.4" height="22.6"/><text x="3.5" y="60.9">baseFieldID</text>
<rect class="p" y="69.2" width="189.4" height="22.6"/><text x="3.5" y="83.5">customFieldID</text>
<rect class="w" y="91.8" width="189.4" height="23"/><path class="d" d="M64.4,91.8v23M126.7,91.8v23"/>
<text x="3.5" y="106.5">&lt; 2</text><text class="c" x="95.55" y="106.5">0 rows</text>
</g>
<g id="customItemTypes" transform="translate(220.6,3031.3)">
<rect class="h" width="142.7" height="24"/><text class="c" x="71.35" y="15.5">customItemTypes</text>
<rect class="p" y="24" width="142.7" height="22.6"/><text x="3.5" y="38.3">customItemTypeID</text>
<rect class="w" y="46.6" width="142.7" height="22.6"/><text x="3.5" y="60.9">typeName</text>
<rect class="w" y="69.2" width="142.7" height="22.6"/><text x="3.5" y="83.5">label</text>
<rect class="w" y="91.8" width="142.7" height="22.6"/><text x="3.5" y="106.1">display</text>
<rect class="w" y="114.4" width="142.7" height="22.6"/><text x="3.5" y="128.7">icon</text>
<rect class="w" y="137" width="142.7" height="23"/><path class="d" d="M45,137v23M98.8,137v23"/>
<text class="c" x="71.9" y="151.7">0 rows</text><text class="r" x="137.2" y="151.7">2 &gt;</text>
</g>
<g id="customItemTypeFields" transform="translate(448.9,3149.3)">
<rect class="h" width="162.8" height="24"/><text class="c" x="81.4" y="15.5">customItemTypeFields</text>
<rect class="p" y="24" width="162.8" height="22.6"/><text x="3.5" y="38.3">customItemTypeID</text>
<rect class="k" y="46.6" width="162.8" height="22.6"/><text x="3.5" y="60.9">fieldID</text>
<rect class="k" y="69.2" width="162.8" height="22.6"/><text x="3.5" y="83.5">customFieldID</text>
<rect class="w" y="91.8" width="162.8" height="22.6"/><text x="3.5" y="106.1">hide</text>
<rect class="p" y="114.4" width="162.8" height="22.6"/><text x="3.5" y="128.7">orderIndex</text>
<rect class="w" y="137" width="162.8" height="23"/><path class="d" d="M55.5,137v23M108.9,137v23"/>
<text x="3.5" y="151.7">&lt; 3</text><text class="c" x="82.2" y="151.7">0 rows</text>
</g>
<g id="customFields" transform="translate(229.4,3219.3)">
<rect class="h" width="123.9" height="24"/><text class="c" x="61.95" y="15.5">customFields</text>
<rect class="p" y="24" width="123.9" height="22.6"/><text x="3.5" y="38.3">customFieldID</text>
<rect class="w" y="46.6" width="123.9" height="22.6"/><text x="3.5" y="60.9">fieldName</text>
<rect class="w" y="69.2" width="123.9" height="22.6"/><text x="3.5" y="83.5">label</text>
<rect class="w" y="91.8" width="123.9" height="23"/><path class="d" d="M36.2,91.8v23M90,91.8v23"/>
<text class="c" x="63.1" y="106.5">0 rows</text><text class="r" x="118.4" y="106.5">1 &gt;</text>
</g>
<text x="16.7" y="3375" style="font-size:14.2px">Generated by SchemaSpy</text>
</svg>
